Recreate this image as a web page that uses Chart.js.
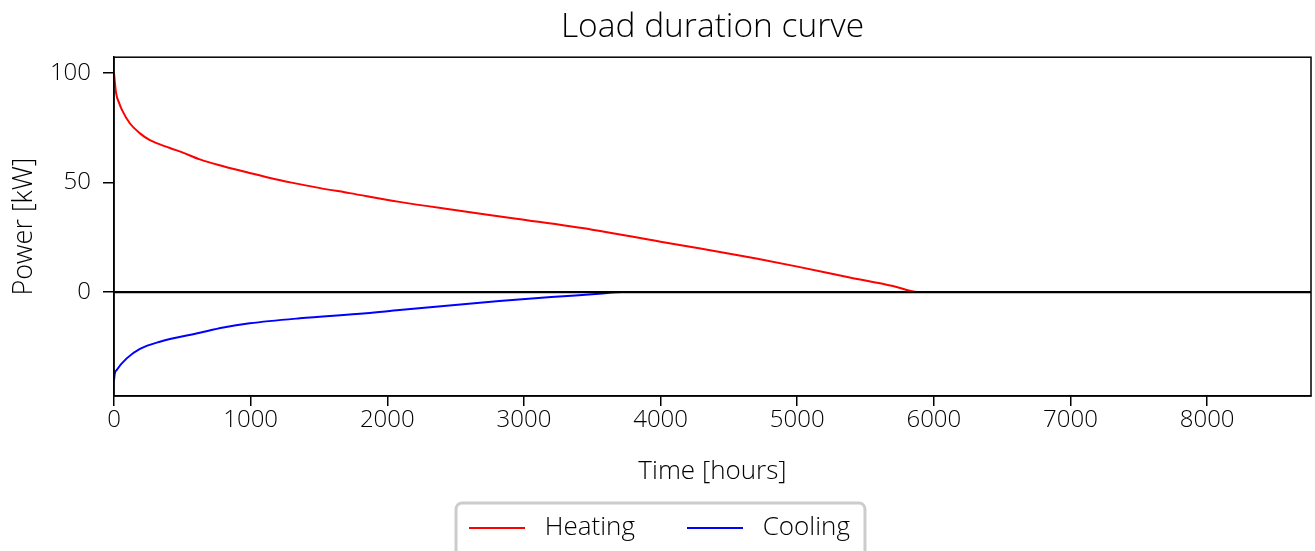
<!DOCTYPE html>
<html lang="en">
<head>
    <meta charset="UTF-8">
    <title>Load duration curve</title>
    <style>
        body { background: #fff; margin: 0; }
        .wrap { width: 1315px; height: 551px; position: relative; }
    </style>
</head>
<body>
    <div class="wrap"><canvas id="ldc"></canvas></div>

    <script src="https://cdn.jsdelivr.net/npm/chart.js"></script>
    <script>
        // sorted load
        const heatHours = [0, 15, 40, 60, 117, 190, 263, 409, 500, 628, 800, 1000, 1150, 1300, 1500, 1724, 2089, 2454, 2944, 3500, 4000, 4281, 4700, 5011, 5376, 5700, 5880, 8760];
        const heatKW    = [100, 91, 86, 83, 77, 72.5, 69.4, 65.8, 63.8, 60.6, 57.5, 54.3, 52, 50, 47.6, 45.2, 41.2, 37.8, 33.5, 28.5, 23, 20, 15.3, 11.5, 6.8, 2.8, 0, 0];
        const coolHours = [0, 5, 20, 93, 190, 336, 628, 800, 993, 1359, 1846, 2089, 2820, 3200, 3550, 3720, 8760];
        const coolKW    = [-40.4, -37.5, -35.6, -30.3, -26, -22.7, -18.6, -16.2, -14.3, -12, -9.7, -8.2, -4.1, -2.3, -0.8, 0, 0];
        const xTicks = [0, 1000, 2000, 3000, 4000, 5000, 6000, 7000, 8000];
        const yTicks = [0, 50, 100];

        const FONT = "'Open Sans', 'DejaVu Sans', sans-serif";
        const pts = (xs, ys) => xs.map((x, i) => ({x: x, y: ys[i]}));

        // box round the plot + legend frame
        const framePlugin = {
            id: 'frame',
            afterLayout(chart) {
                const a = chart.chartArea;
                chart.titleBlock.left = a.left;
                chart.titleBlock.right = a.right;
            },
            afterDraw(chart) {
                const ctx = chart.ctx, a = chart.chartArea;
                ctx.save();
                ctx.strokeStyle = '#000';
                ctx.lineWidth = 1.5;
                ctx.strokeRect(a.left, a.top, a.right - a.left, a.bottom - a.top);

                const boxes = chart.legend.legendHitBoxes;
                if (boxes && boxes.length) {
                    const l = boxes[0].left - 13;
                    const r = boxes[boxes.length - 1].left + boxes[boxes.length - 1].width + 15;
                    const t = 503, b = 570, rad = 6;
                    ctx.strokeStyle = '#cccccc';
                    ctx.lineWidth = 3;
                    ctx.beginPath();
                    ctx.moveTo(l + rad, t);
                    ctx.lineTo(r - rad, t);
                    ctx.arcTo(r, t, r, t + rad, rad);
                    ctx.lineTo(r, b);
                    ctx.moveTo(l, b);
                    ctx.lineTo(l, t + rad);
                    ctx.arcTo(l, t, l + rad, t, rad);
                    ctx.stroke();
                }
                ctx.restore();
            }
        };

        const tickFont = { family: FONT, size: 24, weight: 300 };
        const titleFont = { family: FONT, size: 26, weight: 300 };

        new Chart(document.getElementById('ldc'), {
            type: 'line',
            data: {
                datasets: [
                    {
                        label: 'zero',
                        data: pts([0, 8760], [0, 0]),
                        borderColor: '#000',
                        borderWidth: 2.2,
                        pointRadius: 0,
                        order: -1
                    },
                    {
                        label: 'Heating',
                        data: pts(heatHours, heatKW),
                        borderColor: '#ff0000',
                        backgroundColor: '#ff0000',
                        borderWidth: 2,
                        pointRadius: 0,
                        cubicInterpolationMode: 'monotone'
                    },
                    {
                        label: 'Cooling',
                        data: pts(coolHours, coolKW),
                        borderColor: '#0000ff',
                        backgroundColor: '#0000ff',
                        borderWidth: 2,
                        pointRadius: 0,
                        cubicInterpolationMode: 'monotone'
                    }
                ]
            },
            options: {
                responsive: true,
                maintainAspectRatio: false,
                animation: false,
                layout: { padding: { left: 8, right: 4, top: 0, bottom: 0 } },
                plugins: {
                    title: {
                        display: true,
                        text: 'Load duration curve',
                        color: '#000',
                        font: { family: FONT, size: 33.5, weight: 300 },
                        padding: { top: 7, bottom: 10 }
                    },
                    legend: {
                        position: 'bottom',
                        labels: {
                            color: '#000',
                            font: { family: FONT, size: 26, weight: 300 },
                            boxWidth: 56,
                            boxHeight: 0,
                            padding: 52,
                            filter: item => item.text.trim() !== 'zero',
                            generateLabels: chart => Chart.defaults.plugins.legend.labels.generateLabels(chart)
                                .map(item => Object.assign(item, { text: ' ' + item.text }))
                        }
                    },
                    tooltip: { enabled: false }
                },
                scales: {
                    x: {
                        type: 'linear',
                        min: 0,
                        max: 8760,
                        afterBuildTicks: s => { s.ticks = xTicks.map(v => ({value: v})); },
                        afterFit: s => { s.height += 21; },
                        ticks: { color: '#000', font: tickFont, padding: 0, callback: v => String(v) },
                        grid: { drawOnChartArea: false, drawTicks: true, tickLength: 10, color: '#000', lineWidth: 1.5 },
                        border: { display: true, color: '#000', width: 1.5 },
                        title: { display: true, text: 'Time [hours]', color: '#000', font: titleFont, padding: { top: 0, bottom: -24 } }
                    },
                    y: {
                        type: 'linear',
                        min: -47.5,
                        max: 107.3,
                        afterBuildTicks: s => { s.ticks = yTicks.map(v => ({value: v})); },
                        afterFit: s => { s.width = 106; },
                        ticks: { color: '#000', font: tickFont, padding: 12, callback: v => String(v) },
                        grid: { drawOnChartArea: false, drawTicks: true, tickLength: 11, color: '#000', lineWidth: 1.5 },
                        border: { display: true, color: '#000', width: 1.5 },
                        title: { display: true, text: 'Power [kW]', color: '#000', font: { family: FONT, size: 27, weight: 300 }, padding: 0 }
                    }
                }
            },
            plugins: [framePlugin]
        });
    </script>
</body>
</html>
